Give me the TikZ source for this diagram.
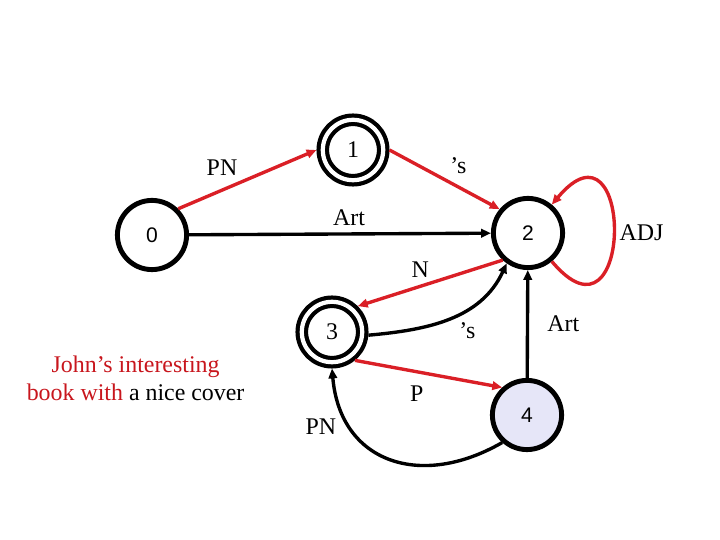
\documentclass[tikz,border=0pt]{standalone}
\usepackage{fontspec}
\setmainfont{Liberation Serif}
\newfontfamily\numfont{Liberation Sans}
\usetikzlibrary{arrows.meta}
\definecolor{arcred}{HTML}{DA1F26}
\definecolor{textred}{HTML}{C8161D}
\definecolor{statefill}{HTML}{E6E6F8}
\tikzset{
    state/.style={circle, draw=black, line width=3.5pt, minimum size=1.73cm, inner sep=0pt, font=\fontsize{15}{18}\numfont},
    finalstate/.style={state, double, double distance=3pt, line width=3pt, minimum size=1.51cm, outer sep=4.5pt, font=\fontsize{17}{20}\selectfont},
    arclabel/.style={font=\fontsize{17}{20}\selectfont, inner sep=3pt},
    redarc/.style={-{Triangle[length=7pt, width=6pt]}, line width=2.4pt, draw=arcred},
    blackarc/.style={-{Triangle[length=7pt, width=6pt]}, line width=2.4pt, draw=black}
}

\begin{document}
\begin{tikzpicture}
    \useasboundingbox (0,0) rectangle (18,13.5);
    \node[state] (s0) at (3.8,7.625) {0};
    \node[finalstate] (s1) at (8.825,9.75) {1};
    \node[state] (s2) at (13.2,7.675) {2};
    \node[finalstate] (s3) at (8.3,5.2) {3};
    \node[state, fill=statefill] (s4) at (13.175,3.125) {4};
    \node[arclabel, align=center] (phrase) at (3.39,4.05)
        {\textcolor{textred}{John's interesting}\\\textcolor{textred}{book with} a nice cover};

    \draw[redarc] (s0.45) -- node[arclabel, pos=0.47, above left] {PN} (s1.west);
    \draw[redarc] (s1.east) -- node[arclabel, pos=0.5, above right] {'s} (s2.140);
    \draw[blackarc] (s0) -- node[arclabel, pos=0.53, above=2pt] {Art} (s2);
    \draw[redarc] (s2.227) -- node[arclabel, pos=0.57, above=2pt] {N} (s3.45);
    \draw[blackarc] (s3.-5) to[out=5, in=-115] node[arclabel, pos=0.52, below right] {'s} (s2.235);
    \draw[blackarc] (s4) -- node[arclabel, midway, right=10pt] {Art} (s2);
    % self loop on 2
    \draw[redarc] (s2.-50) to[out=-50, in=50, looseness=5.8] node[arclabel, midway, right] {ADJ} (s2.50);
    \draw[redarc] (s3.-51) -- node[arclabel, pos=0.42, below=6pt] {P} (s4.132);
    \draw[blackarc] (s4.228) to[out=-150, in=-85, looseness=1.3] node[arclabel, pos=0.75, left=6pt] {PN} (s3.south);
\end{tikzpicture}
\end{document}
